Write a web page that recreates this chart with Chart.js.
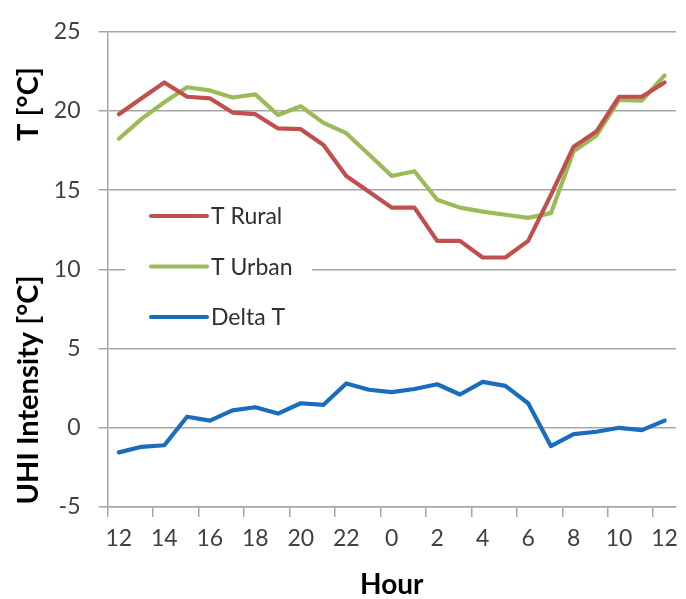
<!DOCTYPE html>
<html>
<head>
<meta charset="utf-8">
<script src="https://cdn.jsdelivr.net/npm/chart.js@4/dist/chart.umd.min.js"></script>
<style>
  html, body { margin: 0; padding: 0; background: #ffffff; }
  #wrap { width: 686px; height: 599px; }
</style>
</head>
<body>
<div id="wrap"><canvas id="c" width="686" height="599"></canvas></div>
<script>
// Hours of the day, starting at noon and running to noon of the next day
const hours = ['12','13','14','15','16','17','18','19','20','21','22','23',
               '0','1','2','3','4','5','6','7','8','9','10','11','12'];

// Air temperature at the rural station [°C]
const tRural = [19.8, 20.8, 21.8, 20.9, 20.8, 19.9, 19.8, 18.9, 18.85, 17.85, 15.9, 14.9,
                13.9, 13.9, 11.8, 11.8, 10.75, 10.75, 11.8, 14.7, 17.75, 18.7, 20.9, 20.9, 21.8];

// Air temperature at the urban station [°C]
const tUrban = [18.25, 19.5, 20.55, 21.5, 21.3, 20.85, 21.05, 19.75, 20.3, 19.25, 18.6, 17.25,
                15.9, 16.2, 14.4, 13.9, 13.65, 13.45, 13.25, 13.55, 17.45, 18.45, 20.7, 20.65, 22.25];

// Urban heat island intensity (urban minus rural) [°C]
const deltaT = [-1.55, -1.2, -1.1, 0.7, 0.45, 1.1, 1.3, 0.9, 1.55, 1.45, 2.8, 2.4,
                2.25, 2.45, 2.75, 2.1, 2.9, 2.65, 1.55, -1.15, -0.4, -0.25, 0.0, -0.15, 0.45];

const yTicks = [-5, 0, 5, 10, 15, 20, 25];

const FONT = 'Lato, "Open Sans", "DejaVu Sans", sans-serif';
const GRID = '#a6a6a6';
const TEXT = '#404040';

// Legend drawn inside the plot area on a white panel
const innerLegend = {
  id: 'innerLegend',
  afterDraw(chart) {
    const ctx = chart.ctx;
    const box = { x: 125, y: 192, w: 187, h: 146 };
    ctx.save();
    ctx.fillStyle = '#ffffff';
    ctx.fillRect(box.x, box.y, box.w, box.h);
    ctx.font = '23px ' + FONT;
    ctx.textBaseline = 'middle';
    ctx.textAlign = 'left';
    chart.data.datasets.forEach((ds, i) => {
      const cy = 216 + i * 50.5;
      ctx.strokeStyle = ds.borderColor;
      ctx.lineWidth = 4;
      ctx.lineCap = 'round';
      ctx.beginPath();
      ctx.moveTo(151, cy);
      ctx.lineTo(207, cy);
      ctx.stroke();
      ctx.fillStyle = '#303030';
      ctx.fillText(ds.label, 211, cy + 1);
    });
    ctx.restore();
  }
};

// Two stacked titles along the value axis
const sideTitles = {
  id: 'sideTitles',
  afterDraw(chart) {
    const ctx = chart.ctx;
    ctx.save();
    ctx.font = 'bold 29px ' + FONT;
    ctx.fillStyle = '#000000';
    ctx.textAlign = 'center';
    ctx.textBaseline = 'middle';
    const put = (txt, x, y) => {
      ctx.save();
      ctx.translate(x, y);
      ctx.rotate(-Math.PI / 2);
      ctx.fillText(txt, 0, 0);
      ctx.restore();
    };
    put('T [°C]', 29, 104);
    put('UHI Intensity [°C]', 29, 390);
    ctx.restore();
  }
};

new Chart(document.getElementById('c'), {
  type: 'line',
  data: {
    labels: hours,
    datasets: [
      { label: 'T Rural', data: tRural, borderColor: '#c0504d' },
      { label: 'T Urban', data: tUrban, borderColor: '#9bbb59' },
      { label: 'Delta T', data: deltaT, borderColor: '#1a6cbc' }
    ]
  },
  options: {
    responsive: false,
    animation: false,
    devicePixelRatio: 1,
    layout: { padding: { left: 0, top: 25, right: 3.5, bottom: 0 } },
    elements: {
      line: { borderWidth: 4.2, tension: 0, fill: false, borderJoinStyle: 'round', borderCapStyle: 'round' },
      point: { radius: 0, hoverRadius: 0 }
    },
    plugins: {
      legend: { display: false },
      tooltip: { enabled: false }
    },
    scales: {
      x: {
        type: 'category',
        offset: true,
        afterFit(s) { s.height = 92; },
        border: { color: GRID, width: 1.5 },
        grid: {
          offset: true,
          drawOnChartArea: false,
          tickLength: 10,
          lineWidth: 1.5,
          tickColor: (c) => (c.index !== undefined && c.index % 2 === 0) ? GRID : 'rgba(0,0,0,0)'
        },
        ticks: {
          autoSkip: false,
          maxRotation: 0,
          minRotation: 0,
          padding: 8,
          color: TEXT,
          font: { family: FONT, size: 23 },
          callback(v, i) { return i % 2 === 0 ? hours[i] : ''; }
        },
        title: {
          display: true,
          text: 'Hour',
          color: '#000000',
          font: { family: FONT, size: 28, weight: 'bold', lineHeight: 1.0 },
          padding: { top: 0, bottom: 0 }
        }
      },
      y: {
        min: -5,
        max: 25,
        afterFit(s) { s.width = 107.5; },
        afterBuildTicks(s) { s.ticks = yTicks.map(v => ({ value: v })); },
        border: { color: GRID, width: 1.5 },
        grid: { color: GRID, lineWidth: 1.5, tickLength: 9 },
        ticks: {
          padding: 18,
          color: TEXT,
          font: { family: FONT, size: 23 }
        }
      }
    }
  },
  plugins: [innerLegend, sideTitles]
});
</script>
</body>
</html>
